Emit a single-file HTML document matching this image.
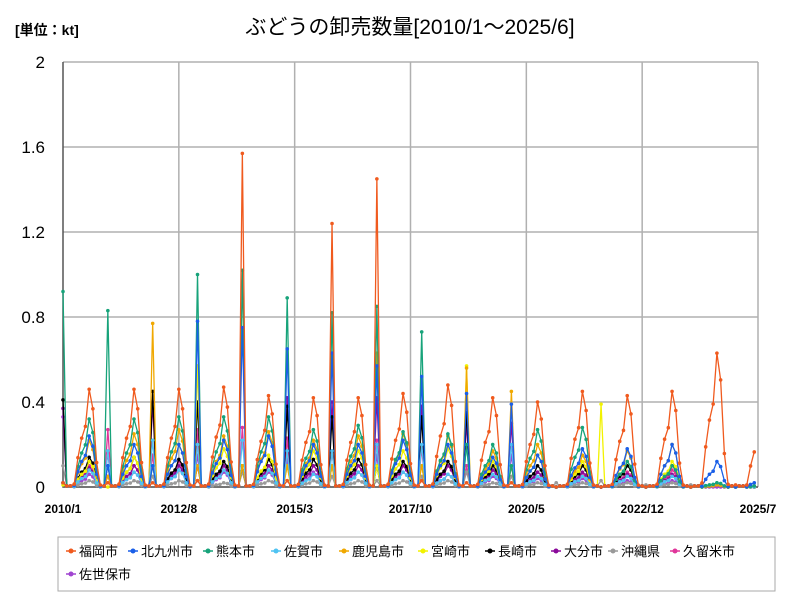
<!DOCTYPE html>
<html><head><meta charset="utf-8">
<style>
body{margin:0;background:#fff;font-family:"Liberation Sans","Noto Sans CJK JP",sans-serif;}
svg text{font-family:"Liberation Sans","Noto Sans CJK JP",sans-serif;}
</style></head>
<body>
<svg id="chart" width="800" height="600">
<rect x="0" y="0" width="800" height="600" fill="#fff"/>
<text x="15" y="35" font-size="14" font-weight="bold">[単位：kt]</text>
<text x="410" y="34" font-size="21" text-anchor="middle">ぶどうの卸売数量[2010/1～2025/6]</text>
<g id="grid"></g>
<g id="series"></g>
<g id="legend"></g>
</svg>
<script>
const xTickLabels=["2010/1","2012/8","2015/3","2017/10","2020/5","2022/12","2025/7"];
const yTickLabels=["0","0.4","0.8","1.2","1.6","2"];
const yTicks=[0,0.4,0.8,1.2,1.6,2];
const seriesNames=["福岡市","北九州市","熊本市","佐賀市","鹿児島市","宮崎市","長崎市","大分市","沖縄県","久留米市","佐世保市"];
const colors=["#f05a1e","#1a5fe8","#17a37a","#4fc3f2","#f0a800","#f2f200","#000000","#8a0a9a","#999999","#e0359a","#a044d0"];
// seasonal profile Apr..Nov (fraction of summer peak)
const seasonProfile=[0.03,0.3,0.5,0.62,1.0,0.8,0.25,0.02];
const summerPeak=[
[.46,.46,.46,.47,.43,.42,.42,.44,.48,.42,.40,.45,.43,.45,.63,.33],
[.24,.2,.2,.22,.24,.2,.2,.22,.2,.14,.15,.18,.18,.2,.12,.04],
[.32,.32,.33,.33,.33,.27,.29,.26,.25,.2,.27,.28,.12,.1,.02,.01],
[.08,.07,.08,.08,.08,.06,.07,.07,.06,.06,.05,.05,.05,.05,.02,0],
[.22,.25,.27,.24,.26,.22,.24,.25,.24,.17,.2,.15,.17,.2,.01,0],
[.12,.14,.2,.18,.15,.17,.17,.17,.18,.12,.15,.12,.12,.12,.01,0],
[.14,.14,.13,.12,.13,.13,.13,.12,.12,.1,.1,.1,.1,.1,.01,0],
[.09,.1,.1,.1,.1,.1,.1,.1,.1,.08,.07,.07,.06,.06,.01,0],
[.03,.03,.03,.02,.03,.03,.03,.03,.03,.02,.02,.02,.02,.02,.01,.01],
[.1,.1,.12,.1,.1,.1,.1,.1,.1,.08,.07,.06,.07,.08,.01,0],
[.06,.07,.08,.07,.07,.07,.07,.07,.06,.05,.04,.04,.03,.03,0,0]];
// winter spike values, January of 2011..2025
const winterSpike=[
[.02,.02,.03,1.57,.03,1.24,1.45,.03,.02,.02,0,0,0,0,.01],
[.1,.1,.78,.75,.65,.63,.57,.52,.44,.39,0,0,0,0,0],
[.83,.1,1.0,1.02,.89,.82,.85,.73,.2,.1,0,0,0,0,0],
[.17,.22,.2,.22,.17,.17,.2,.2,.2,.2,0,0,0,0,0],
[.05,.77,.1,.1,.1,.1,.63,.1,.56,.45,0,0,0,0,0],
[0,.1,.57,.1,.1,.1,.1,.1,.57,.1,0,.39,0,0,0],
[.1,.45,.4,.1,.38,.33,.1,.33,.35,.1,0,0,0,0,0],
[.05,.4,.1,.1,.42,.4,.42,.38,.3,.3,0,0,0,0,0],
[.02,.05,.03,.07,.03,.05,.03,.05,.07,.05,.02,.03,.01,.01,0],
[.27,.15,.27,.28,.23,.17,.22,.18,.1,.1,0,0,0,0,0],
[.16,.1,.15,.1,.13,.1,.15,.1,.1,.15,0,0,0,0,0]];
const jan2010=[.02,.02,.92,.02,.02,.01,.41,.37,.1,.02,.33];
const NM=186;
const X0=63,X1=758,Y0=487,Y1=62;
const xs=m=>X0+m*(X1-X0)/NM;
const ys=v=>Y0-v/2*(Y0-Y1);
const NS="http://www.w3.org/2000/svg";
function mk(t,a,p){const e=document.createElementNS(NS,t);for(const k in a)e.setAttribute(k,a[k]);p.appendChild(e);return e;}
const grid=document.getElementById('grid');
yTicks.forEach((v,i)=>{
 const l=mk('line',{x1:X0,x2:X1,y1:ys(v),y2:ys(v),stroke:'#b0b0b0','stroke-width':1.5},grid);
 
 
 const t=mk('text',{x:45,y:ys(v)+6,'font-size':17,'text-anchor':'end'},grid);t.textContent=yTickLabels[i];
 
 
});
xTickLabels.forEach((s,i)=>{
 const m=i*31;
 if(i>0){const l=mk('line',{x1:xs(m),x2:xs(m),y1:Y1,y2:Y0,stroke:'#b0b0b0','stroke-width':1.5},grid);
 
 }
 const t=mk('text',{x:xs(m),y:513,'font-size':12,'font-weight':'bold','text-anchor':'middle'},grid);t.textContent=s;
 
 
});
const ax=mk('path',{d:`M${X0} ${Y1}V${Y0}H${X1}`,stroke:'#555',fill:'none','stroke-width':1.5},grid);


const sg=document.getElementById('series');
for(let s=10;s>=0;s--){
 const vals=new Array(NM).fill(0.005);
 for(let y=0;y<16;y++){
  for(let k=0;k<seasonProfile.length;k++){const m=y*12+3+k;if(m<NM)vals[m]=summerPeak[s][y]*seasonProfile[k];}
  if(y<15){const m=y*12+12;vals[m]=winterSpike[s][y];}
 }
 vals[0]=jan2010[s];
 const g=mk('g',{},sg);
 
 
 mk('polyline',{points:vals.map((v,m)=>xs(m)+','+ys(v)).join(' '),fill:'none',stroke:colors[s],'stroke-width':1.3},g);
 vals.forEach((v,m)=>{const c=mk('circle',{cx:xs(m),cy:ys(v),r:1.8,fill:colors[s]},g);
  
  });
}
const lg=document.getElementById('legend');
const box=mk('rect',{x:58,y:537,width:717,height:54,fill:'#fff',stroke:'#aaa'},lg);


const lx=[66,128,203,271,339,418,485,551,608,670,66];
seriesNames.forEach((n,i)=>{
 const y=i<10?551:574;
 const g=mk('g',{},lg);
 
 
 mk('line',{x1:lx[i],x2:lx[i]+10,y1:y,y2:y,stroke:colors[i],'stroke-width':1.5},g);
 mk('circle',{cx:lx[i]+5,cy:y,r:2.5,fill:colors[i]},g);
 const t=mk('text',{x:lx[i]+13,y:y+5,'font-size':13},g);t.textContent=n;
});
</script>
</body></html>
